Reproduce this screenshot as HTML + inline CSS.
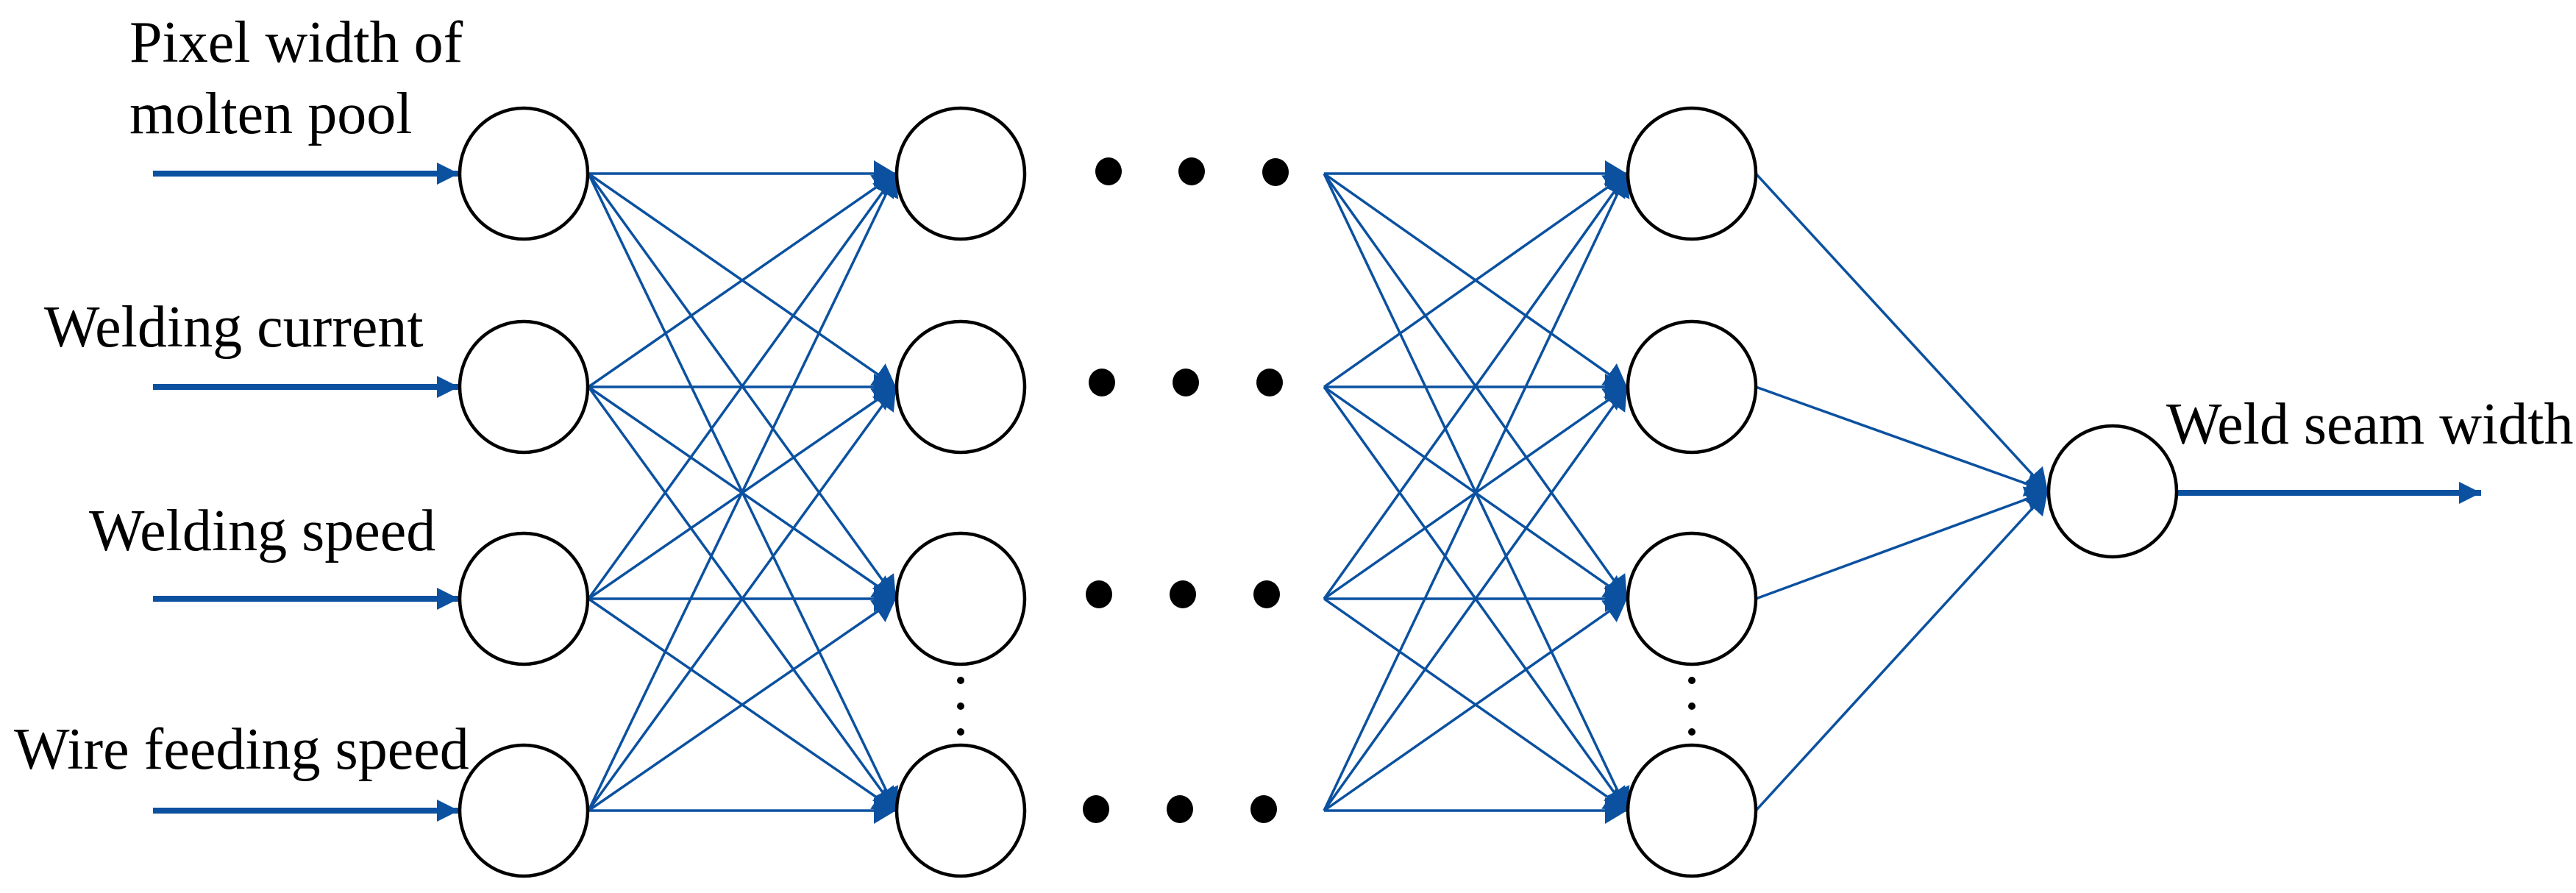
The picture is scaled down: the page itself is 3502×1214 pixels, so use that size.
<!DOCTYPE html>
<html><head><meta charset="utf-8"><style>
html,body{margin:0;padding:0;background:#fff;}
svg{display:block}
text{font-family:"Liberation Serif",serif;font-size:80px;fill:#000}
</style></head><body>
<svg width="3502" height="1214" viewBox="0 0 3502 1214" xmlns="http://www.w3.org/2000/svg">
<defs>
<marker id="a" markerUnits="userSpaceOnUse" markerWidth="34" markerHeight="34" refX="30" refY="15" orient="auto"><path d="M0,0 L30,15 L0,30 Z" fill="#0b51a0"/></marker>
<marker id="b" markerUnits="userSpaceOnUse" markerWidth="34" markerHeight="40" refX="30" refY="18" orient="auto"><path d="M0,0 L30,18 L0,36 Z" fill="#0b51a0"/></marker>
</defs>
<g stroke="#0b51a0" fill="none">
<g stroke-width="8" marker-end="url(#a)">
<line x1="208" y1="236" x2="624" y2="236"/>
<line x1="208" y1="526" x2="624" y2="526"/>
<line x1="208" y1="814" x2="624" y2="814"/>
<line x1="208" y1="1102" x2="624" y2="1102"/>
<line x1="2961" y1="670" x2="3373" y2="670"/>
</g>
<g stroke-width="3.5" marker-end="url(#b)">
<line x1="800" y1="236" x2="1218" y2="236"/><line x1="800" y1="236" x2="1218" y2="526"/><line x1="800" y1="236" x2="1218" y2="814"/><line x1="800" y1="236" x2="1218" y2="1102"/>
<line x1="800" y1="526" x2="1218" y2="236"/><line x1="800" y1="526" x2="1218" y2="526"/><line x1="800" y1="526" x2="1218" y2="814"/><line x1="800" y1="526" x2="1218" y2="1102"/>
<line x1="800" y1="814" x2="1218" y2="236"/><line x1="800" y1="814" x2="1218" y2="526"/><line x1="800" y1="814" x2="1218" y2="814"/><line x1="800" y1="814" x2="1218" y2="1102"/>
<line x1="800" y1="1102" x2="1218" y2="236"/><line x1="800" y1="1102" x2="1218" y2="526"/><line x1="800" y1="1102" x2="1218" y2="814"/><line x1="800" y1="1102" x2="1218" y2="1102"/>
<line x1="1800" y1="236" x2="2212" y2="236"/><line x1="1800" y1="236" x2="2212" y2="526"/><line x1="1800" y1="236" x2="2212" y2="814"/><line x1="1800" y1="236" x2="2212" y2="1102"/>
<line x1="1800" y1="526" x2="2212" y2="236"/><line x1="1800" y1="526" x2="2212" y2="526"/><line x1="1800" y1="526" x2="2212" y2="814"/><line x1="1800" y1="526" x2="2212" y2="1102"/>
<line x1="1800" y1="814" x2="2212" y2="236"/><line x1="1800" y1="814" x2="2212" y2="526"/><line x1="1800" y1="814" x2="2212" y2="814"/><line x1="1800" y1="814" x2="2212" y2="1102"/>
<line x1="1800" y1="1102" x2="2212" y2="236"/><line x1="1800" y1="1102" x2="2212" y2="526"/><line x1="1800" y1="1102" x2="2212" y2="814"/><line x1="1800" y1="1102" x2="2212" y2="1102"/>
<line x1="2387" y1="236" x2="2784" y2="668"/><line x1="2387" y1="526" x2="2784" y2="668"/><line x1="2387" y1="814" x2="2784" y2="668"/><line x1="2387" y1="1102" x2="2784" y2="668"/>
</g>
</g>
<g stroke="#000" stroke-width="4.5" fill="#fff">
<ellipse cx="712" cy="236" rx="87" ry="89"/><ellipse cx="712" cy="526" rx="87" ry="89"/><ellipse cx="712" cy="814" rx="87" ry="89"/><ellipse cx="712" cy="1102" rx="87" ry="89"/>
<ellipse cx="1306" cy="236" rx="87" ry="89"/><ellipse cx="1306" cy="526" rx="87" ry="89"/><ellipse cx="1306" cy="814" rx="87" ry="89"/><ellipse cx="1306" cy="1102" rx="87" ry="89"/>
<ellipse cx="2300" cy="236" rx="87" ry="89"/><ellipse cx="2300" cy="526" rx="87" ry="89"/><ellipse cx="2300" cy="814" rx="87" ry="89"/><ellipse cx="2300" cy="1102" rx="87" ry="89"/>
<ellipse cx="2872" cy="668" rx="87" ry="89"/>
</g>
<g fill="#000">
<ellipse cx="1507" cy="233" rx="18" ry="19"/><ellipse cx="1620" cy="233" rx="18" ry="19"/><ellipse cx="1734" cy="234" rx="18" ry="19"/>
<ellipse cx="1498" cy="520" rx="18" ry="19"/><ellipse cx="1612" cy="520" rx="18" ry="19"/><ellipse cx="1726" cy="520" rx="18" ry="19"/>
<ellipse cx="1494" cy="808" rx="18" ry="19"/><ellipse cx="1608" cy="808" rx="18" ry="19"/><ellipse cx="1722" cy="808" rx="18" ry="19"/>
<ellipse cx="1490" cy="1100" rx="18" ry="19"/><ellipse cx="1604" cy="1100" rx="18" ry="19"/><ellipse cx="1718" cy="1100" rx="18" ry="19"/>
<circle cx="1306" cy="925" r="5"/><circle cx="1306" cy="960" r="5"/><circle cx="1306" cy="995" r="5"/>
<circle cx="2300" cy="925" r="5"/><circle cx="2300" cy="960" r="5"/><circle cx="2300" cy="995" r="5"/>
</g>
<text x="176" y="84">Pixel width of</text>
<text x="176" y="181">molten pool</text>
<text x="60" y="471">Welding current</text>
<text x="121" y="748">Welding speed</text>
<text x="19" y="1045">Wire feeding speed</text>
<text x="2945" y="603">Weld seam width</text>
</svg>
</body></html>
